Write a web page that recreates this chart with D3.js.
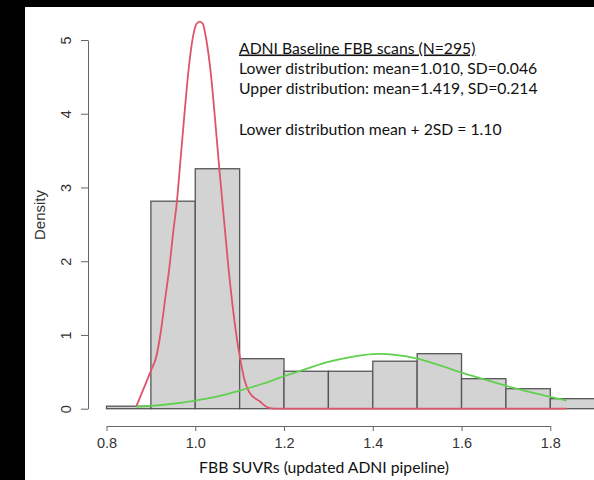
<!DOCTYPE html>
<html>
<head>
<meta charset="utf-8">
<script src="https://cdn.jsdelivr.net/npm/d3@7"></script>
<style>
  html, body { margin: 0; padding: 0; background: #000; }
  svg { display: block; }
</style>
</head>
<body>
<svg id="chart" width="594" height="480"></svg>
<script>
// histogram bins (left edges) and densities
const binStarts = [0.8, 0.9, 1.0, 1.1, 1.2, 1.3, 1.4, 1.5, 1.6, 1.7, 1.8];
const binWidth = 0.1;
const densities = [0.034, 2.814, 3.254, 0.678, 0.508, 0.508, 0.644, 0.746, 0.407, 0.271, 0.136];

// lower (red) fitted curve
const lowerX = [0.867, 0.901, 0.912, 0.922, 0.932, 0.942, 0.950, 0.959, 0.965, 0.975, 0.985, 0.995, 1.003, 1.010,
  1.017, 1.025, 1.035, 1.045, 1.055, 1.065, 1.075, 1.085, 1.095, 1.100, 1.111, 1.122, 1.145, 1.164, 1.180, 1.837];
const lowerY = [0.03, 0.53, 0.70, 1.03, 1.48, 1.93, 2.38, 2.83, 3.25, 3.95, 4.60, 5.05, 5.22, 5.25,
  5.22, 5.00, 4.55, 3.90, 3.20, 2.55, 1.90, 1.35, 0.90, 0.72, 0.39, 0.22, 0.10, 0.015, 0.0, 0.0];

// upper (green) fitted curve
const upperX = [0.867, 0.90, 0.95, 1.00, 1.05, 1.10, 1.15, 1.20, 1.25, 1.30, 1.35, 1.40, 1.42, 1.45, 1.50,
  1.55, 1.60, 1.65, 1.70, 1.75, 1.80, 1.837];
const upperY = [0.027, 0.038, 0.067, 0.11, 0.166, 0.244, 0.335, 0.44, 0.54, 0.635, 0.70, 0.74, 0.744, 0.73, 0.68,
  0.59, 0.49, 0.40, 0.31, 0.23, 0.16, 0.11];

const xTicks = [0.8, 1.0, 1.2, 1.4, 1.6, 1.8];
const yTicks = [0, 1, 2, 3, 4, 5];

const notes = [
  'ADNI Baseline FBB scans (N=295)',
  'Lower distribution: mean=1.010, SD=0.046',
  'Upper distribution: mean=1.419, SD=0.214',
  'Lower distribution mean + 2SD = 1.10'
];

const svg = d3.select('#chart');
svg.append('rect').attr('x', 25).attr('y', 7).attr('width', 569).attr('height', 473).attr('fill', '#fff');

const x = d3.scaleLinear().domain([0.8, 1.8]).range([106.5, 550.3]);
const y = d3.scaleLinear().domain([0, 5]).range([408.7, 40]);

const rFont = '"Liberation Sans", Arial, sans-serif';

// bars
svg.append('g').selectAll('rect')
  .data(binStarts)
  .enter()
  .append('rect')
  .attr('x', d => x(d))
  .attr('y', (d, i) => y(densities[i]))
  .attr('width', d => x(d + binWidth) - x(d))
  .attr('height', (d, i) => y(0) - y(densities[i]))
  .attr('fill', '#d3d3d3')
  .attr('stroke', '#555')
  .attr('stroke-width', 1.3);

const line = d3.line().x(d => x(d[0])).y(d => y(d[1])).curve(d3.curveMonotoneX);

svg.append('path')
  .datum(lowerX.map((v, i) => [v, lowerY[i]]))
  .attr('d', line)
  .attr('fill', 'none')
  .attr('stroke', '#DF536B')
  .attr('stroke-width', 1.8);

svg.append('path')
  .datum(upperX.map((v, i) => [v, upperY[i]]))
  .attr('d', line)
  .attr('fill', 'none')
  .attr('stroke', '#61D04F')
  .attr('stroke-width', 1.8);

// x axis
const xAxis = svg.append('g')
  .attr('transform', 'translate(0, 426)')
  .call(d3.axisBottom(x).tickValues(xTicks).tickFormat(d3.format('.1f')).tickSize(5).tickSizeOuter(0));
xAxis.select('.domain').attr('stroke', '#666');
xAxis.selectAll('.tick line').attr('stroke', '#666');
xAxis.selectAll('.tick text')
  .attr('y', 22.3).attr('dy', 0)
  .attr('fill', '#333')
  .style('font-family', rFont).style('font-size', '14.5px');

// y axis
const yAxis = svg.append('g')
  .attr('transform', 'translate(88, 0)')
  .call(d3.axisLeft(y).tickValues(yTicks).tickFormat(d3.format('d')).tickSize(7).tickSizeOuter(0));
yAxis.select('.domain').attr('stroke', '#666');
yAxis.selectAll('.tick line').attr('stroke', '#666');
yAxis.selectAll('.tick text')
  .attr('x', 0).attr('dy', 0)
  .attr('transform', 'translate(-17.5, 0) rotate(-90)')
  .attr('text-anchor', 'middle')
  .attr('fill', '#333')
  .style('font-family', rFont).style('font-size', '14.5px');

svg.append('text')
  .attr('transform', 'translate(45, 215) rotate(-90)')
  .attr('text-anchor', 'middle')
  .attr('fill', '#333')
  .style('font-family', rFont).style('font-size', '15px')
  .text('Density');

// annotation text (Calibri-like); size fitted to the width of the second line
const noteFont = 'Lato, "Open Sans", sans-serif';
const probe = svg.append('text').style('font-family', noteFont).style('font-size', '16px').text(notes[1]);
const noteSize = 16 * 298.5 / probe.node().getComputedTextLength();
probe.remove();

const noteY = [53.5, 73.5, 94, 134.5];
svg.append('g').selectAll('text')
  .data(notes)
  .enter()
  .append('text')
  .attr('x', 239)
  .attr('y', (d, i) => noteY[i])
  .attr('fill', '#111')
  .style('font-family', noteFont)
  .style('font-size', noteSize + 'px')
  .style('text-decoration', (d, i) => i === 0 ? 'underline' : null)
  .text(d => d);

svg.append('text')
  .attr('x', 324)
  .attr('y', 473)
  .attr('text-anchor', 'middle')
  .attr('fill', '#111')
  .style('font-family', noteFont)
  .style('font-size', noteSize + 'px')
  .text('FBB SUVRs (updated ADNI pipeline)');
</script>
</body>
</html>
